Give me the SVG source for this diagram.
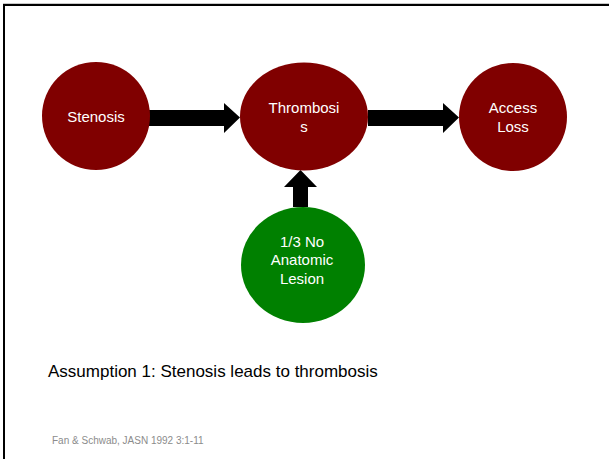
<svg xmlns="http://www.w3.org/2000/svg" width="609" height="459" viewBox="0 0 609 459">
<style>
.lbl{font-family:"Liberation Sans",Arial,sans-serif;font-size:15px;fill:#ffffff;text-anchor:middle}
.red{fill:#800000}
.grn{fill:#008000}
.arrow{fill:#000000}
</style>
<rect x="0" y="0" width="609" height="459" fill="#ffffff"/>
<rect x="4" y="5" width="620" height="470" fill="none" stroke="#000000" stroke-width="2"/>
<line x1="3" y1="3.5" x2="609" y2="3.5" stroke="#c8c8c8" stroke-width="1"/>
<g id="connectors">
<polygon class="arrow" points="149,110 224,110 224,103 240,117.5 224,133 224,126 149,126"/>
<polygon class="arrow" points="368,110 443,110 443,103 459,117.5 443,133 443,126 368,126"/>
<polygon class="arrow" points="293,207 293,187 284,187 300.5,170 317,187 308,187 308,207"/>
</g>
<g id="stenosis">
<ellipse class="red" cx="96" cy="116" rx="54" ry="54"/>
<text class="lbl" x="96" y="122">Stenosis</text>
</g>
<g id="thrombosis">
<ellipse class="red" cx="304" cy="116.5" rx="64" ry="54"/>
<text class="lbl" x="304" y="113">Thrombosi</text>
<text class="lbl" x="304" y="132">s</text>
</g>
<g id="access-loss">
<ellipse class="red" cx="513" cy="117" rx="54" ry="54"/>
<text class="lbl" x="513" y="113">Access</text>
<text class="lbl" x="513" y="132">Loss</text>
</g>
<g id="no-lesion">
<ellipse class="grn" cx="303" cy="265" rx="62" ry="58"/>
<text class="lbl" x="302" y="247">1/3 No</text>
<text class="lbl" x="302" y="265">Anatomic</text>
<text class="lbl" x="302" y="284">Lesion</text>
</g>
<text x="48" y="377" font-family="Liberation Sans,Arial,sans-serif" font-size="17" fill="#000000">Assumption 1: Stenosis leads to thrombosis</text>
<text x="52" y="444" font-family="Liberation Sans,Arial,sans-serif" font-size="10" fill="#8c8c8c">Fan &amp; Schwab, JASN 1992 3:1-11</text>
</svg>
